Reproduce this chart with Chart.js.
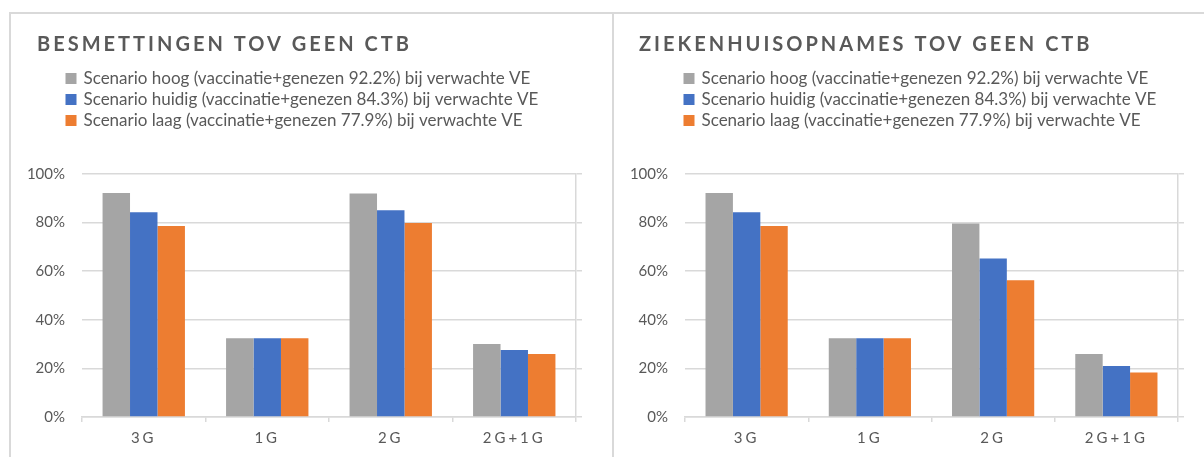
<!DOCTYPE html>
<html><head><meta charset="utf-8">
<script src="https://cdn.jsdelivr.net/npm/chart.js@4.4.1/dist/chart.umd.min.js"></script>
<style>
html,body{margin:0;padding:0;background:#fff;width:1204px;height:457px;overflow:hidden;position:relative}
.ln{position:absolute;background:#d9d9d9}
canvas{position:absolute}
</style></head><body>
<div class="ln" style="left:9px;top:12px;width:1195px;height:2px"></div>
<div class="ln" style="left:9px;top:12px;width:2px;height:445px"></div>
<div class="ln" style="left:612px;top:12px;width:2px;height:445px"></div>
<canvas id="c1" width="601" height="443" style="left:11px;top:14px"></canvas>
<canvas id="c2" width="590" height="443" style="left:614px;top:14px"></canvas>
<script>
// ---- data ----
const categories = ['3G', '1G', '2G', '2G+1G'];
const seriesNames = [
  'Scenario hoog (vaccinatie+genezen 92.2%) bij verwachte VE',
  'Scenario huidig (vaccinatie+genezen 84.3%) bij verwachte VE',
  'Scenario laag (vaccinatie+genezen 77.9%) bij verwachte VE'
];
const titleLeft = 'BESMETTINGEN TOV GEEN CTB';
const titleRight = 'ZIEKENHUISOPNAMES TOV GEEN CTB';
const besmHoog   = [92.2, 32.4, 92.0, 30.0];
const besmHuidig = [84.3, 32.4, 85.1, 27.6];
const besmLaag   = [78.6, 32.4, 79.8, 25.9];
const zhHoog     = [92.2, 32.4, 79.6, 25.9];
const zhHuidig   = [84.3, 32.4, 65.2, 21.0];
const zhLaag     = [78.6, 32.4, 56.3, 18.3];
const yMin = 0, yMax = 100, yStep = 20;

// ---- styling ----
const colors = ['#A5A5A5', '#4472C4', '#ED7D31'];
const textColor = '#595959';
const gridColor = '#d9d9d9';
const FONT = 'Lato, "Open Sans", sans-serif';

const tweakPlugin = {
  id: 'tweak',
  beforeLayout(chart, args, o) {
    const lg = chart.legend;
    if (lg && !lg.__p) {
      const f = lg.fit;
      lg.fit = function () { f.call(this); this.height = o.legendHeight; };
      lg.__p = true;
    }
    const tb = chart.titleBlock;
    if (tb && !tb.__p) {
      const d = tb.draw;
      tb.draw = function () {
        const c = this.ctx; c.save(); c.letterSpacing = o.titleSpacing;
        d.apply(this, arguments); c.letterSpacing = '0px'; c.restore();
      };
      tb.__p = true;
    }
  },
  afterLayout(chart, args, o) {
    const lg = chart.legend;
    if (lg) { lg.left += o.legendShift; lg.right += o.legendShift; }
    const tb = chart.titleBlock;
    if (tb) { tb.left += o.titleShift; tb.right += o.titleShift; }
    const sx = chart.scales.x;
    if (sx && !sx.__p) {
      const dl = sx.drawLabels;
      sx.drawLabels = function () {
        const c = this.ctx; c.save(); c.letterSpacing = o.xSpacing;
        dl.apply(this, arguments); c.letterSpacing = '0px'; c.restore();
      };
      sx.__p = true;
    }
  }
};

function makeChart(id, title, series, cfg) {
  const datasets = series.map((vals, i) => ({
    label: seriesNames[i],
    data: vals,
    backgroundColor: colors[i],
    borderWidth: 0,
    categoryPercentage: 0.667,
    barPercentage: 1.0
  }));
  return new Chart(document.getElementById(id), {
    type: 'bar',
    data: { labels: categories, datasets },
    plugins: [tweakPlugin],
    options: {
      responsive: false,
      animation: false,
      devicePixelRatio: 1,
      layout: { padding: { left: 0, right: cfg.padRight, top: 0, bottom: 0 } },
      plugins: {
        tooltip: { enabled: false },
        title: {
          display: true, text: title, align: 'start', color: textColor,
          font: { family: FONT, size: 20, weight: 'bold', lineHeight: 1.2 },
          padding: { top: 19, bottom: 9 }
        },
        legend: {
          display: true, position: 'top', align: 'start',
          labels: {
            color: textColor, boxWidth: 8, boxHeight: 8, padding: 4,
            font: { family: FONT, size: 17 },
            generateLabels(chart) {
              const items = Chart.defaults.plugins.legend.labels.generateLabels(chart);
              items.forEach(it => { it.lineWidth = 3; it.strokeStyle = it.fillStyle; });
              return items;
            }
          }
        },
        tweak: { legendHeight: 108, legendShift: cfg.legendShift, titleShift: cfg.titleShift, titleSpacing: '3px', xSpacing: '3px' }
      },
      scales: {
        x: {
          grid: { display: true, drawOnChartArea: false, drawTicks: true, tickLength: 5, tickColor: gridColor, color: gridColor, lineWidth: 1.5, offset: true },
          border: { display: true, color: gridColor, width: 1.5 },
          ticks: { color: textColor, font: { family: FONT, size: 15 }, padding: 7 },
          afterFit(s) { s.height = 40; }
        },
        y: {
          position: 'left', min: yMin, max: yMax,
          grid: { color: gridColor, lineWidth: 1.5, drawTicks: false },
          border: { display: false },
          ticks: { stepSize: yStep, color: textColor, font: { family: FONT, size: 15 }, padding: 17, callback: v => v + '%' },
          afterFit(s) { s.width = cfg.yWidth; }
        },
        y2: {
          position: 'right', min: yMin, max: yMax,
          grid: { drawOnChartArea: false, drawTicks: true, tickLength: 6, color: gridColor, tickColor: gridColor, lineWidth: 1.5 },
          border: { display: true, color: gridColor, width: 1.5 },
          ticks: { display: false, stepSize: yStep },
          afterFit(s) { s.width = 6; }
        }
      }
    }
  });
}

makeChart('c1', titleLeft, [besmHoog, besmHuidig, besmLaag],
  { padRight: 30, yWidth: 71, titleShift: 26, legendShift: 52 });
makeChart('c2', titleRight, [zhHoog, zhHuidig, zhLaag],
  { padRight: 20, yWidth: 71, titleShift: 25, legendShift: 67 });
</script>
</body></html>
